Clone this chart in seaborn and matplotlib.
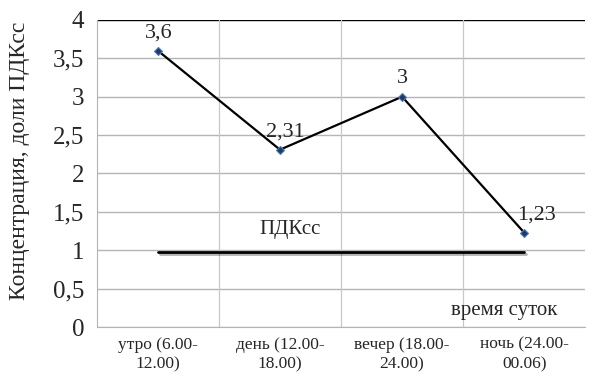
import matplotlib
matplotlib.use("Agg")
import matplotlib.pyplot as plt
import matplotlib.patheffects as pe
import seaborn as sns
import pandas as pd

categories = ["утро (6.00-\n12.00)", "день (12.00-\n18.00)", "вечер (18.00-\n24.00)", "ночь (24.00-\n00.06)"]
values = [3.6, 2.31, 3.0, 1.23]
value_labels = ["3,6", "2,31", "3", "1,23"]
pdk_values = [0.98, 0.98, 0.98, 0.98]
yticks = [0, 0.5, 1, 1.5, 2, 2.5, 3, 3.5, 4]
ytick_labels = ["0", "0,5", "1", "1,5", "2", "2,5", "3", "3,5", "4"]

sns.set_style("white")
plt.rcParams['font.family'] = ['Liberation Serif', 'DejaVu Serif']

df = pd.DataFrame({"cat": categories, "val": values, "pdk": pdk_values})

fig = plt.figure(figsize=(5.90, 3.83), dpi=100)
ax = fig.add_axes([0.164, 0.146, 0.828, 0.802])

# horizontal grid
for y in yticks:
    ax.axhline(y, color="#000000" if y == 4 else "#b5b5b5", lw=1.0, zorder=0)
# vertical grid at category boundaries
for xb in [0.5, 1.5, 2.5]:
    ax.axvline(xb, color="#c8c8c8", lw=0.9, zorder=0)

# PDK line with shadow
sns.lineplot(data=df, x="cat", y="pdk", sort=False, ax=ax, color="black", lw=2.0,
             path_effects=[pe.SimpleLineShadow(offset=(1.5, -1.5), alpha=0.3), pe.Normal()],
             zorder=2)
# data line
sns.lineplot(data=df, x="cat", y="val", sort=False, ax=ax, color="black", lw=1.6,
             marker="D", markersize=4.5, markerfacecolor="#1f3864",
             markeredgecolor="#4a7ebb", markeredgewidth=0.8, zorder=3)

offsets = [(1, 6), (4, 6), (0, 6), (9, 6)]
for i, (v, lab) in enumerate(zip(values, value_labels)):
    ax.annotate(lab, (i, v), xytext=offsets[i], textcoords="offset points",
                ha="center", va="bottom", fontsize=16)

ax.text(1.08, 1.27, "ПДКсс", ha="center", va="center", fontsize=15)
ax.text(2.84, 0.22, "время суток", ha="center", va="center", fontsize=15)

ax.set_xlim(-0.5, 3.5)
ax.set_ylim(0, 4)
ax.set_yticks(yticks)
ax.set_yticklabels(ytick_labels, fontsize=18)
ax.set_xticks(range(4))
ax.set_xticklabels(categories, fontsize=12.5, linespacing=1.3)
ax.tick_params(axis="x", length=0, pad=7)
ax.tick_params(axis="y", length=6, color="#b5b5b5", width=1, pad=3)
ax.set_xlabel("")
ax.set_ylabel("Концентрация, доли ПДКсс", fontsize=17)
ax.yaxis.set_label_coords(-0.137, 0.54)

# minor ticks on x at boundaries
ax.set_xticks([-0.5, 0.5, 1.5, 2.5, 3.5], minor=True)
ax.tick_params(axis="x", which="minor", length=5, color="#b5b5b5", width=1)

for s in ["top", "right"]:
    ax.spines[s].set_visible(False)
ax.spines["left"].set_color("#b5b5b5")
ax.spines["bottom"].set_color("#b5b5b5")
ax.legend_ = None

fig.savefig("out.png", dpi=100)
